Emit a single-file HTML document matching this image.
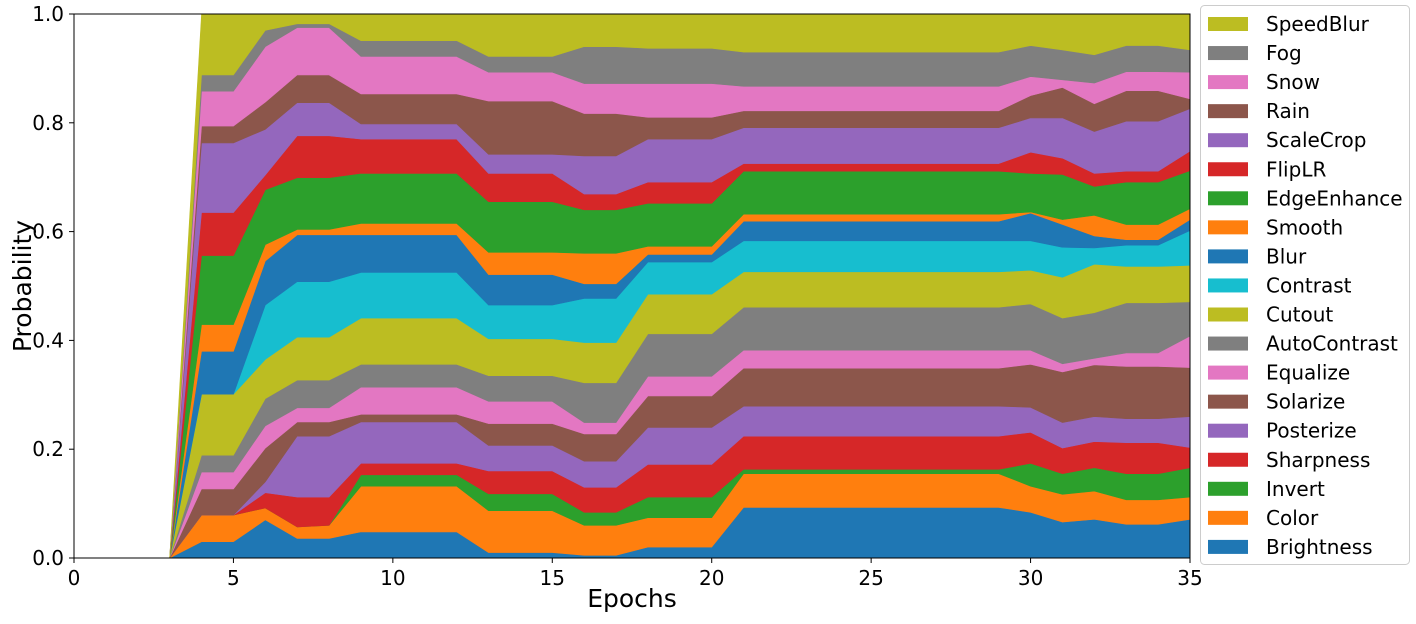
<!DOCTYPE html>
<html><head><meta charset="utf-8"><style>
body{margin:0;background:#fff;width:1416px;height:619px;overflow:hidden}
svg text{font-family:"DejaVu Sans","Liberation Sans",sans-serif;fill:#000}
</style></head><body>
<svg id="chart" width="1416" height="619" xmlns="http://www.w3.org/2000/svg">
<g id="areas"></g>
<g id="axes"></g>
<g id="legend"></g>
</svg>
<script>
const epochs=[3,4,5,6,7,8,9,10,11,12,13,14,15,16,17,18,19,20,21,22,23,24,25,26,27,28,29,30,31,32,33,34,35];
const seriesNames=["Brightness","Color","Invert","Sharpness","Posterize","Solarize","Equalize","AutoContrast","Cutout","Contrast","Blur","Smooth","EdgeEnhance","FlipLR","ScaleCrop","Rain","Snow","Fog","SpeedBlur"];
const colors=["#1f77b4","#ff7f0e","#2ca02c","#d62728","#9467bd","#8c564b","#e377c2","#7f7f7f","#bcbd22","#17becf","#1f77b4","#ff7f0e","#2ca02c","#d62728","#9467bd","#8c564b","#e377c2","#7f7f7f","#bcbd22"];
const brightness=[0,.030,.030,.070,.036,.036,.048,.048,.048,.048,.010,.010,.010,.005,.005,.020,.020,.020,.093,.093,.093,.093,.093,.093,.093,.093,.093,.084,.066,.071,.062,.062,.071];
const color=[0,.049,.049,.022,.021,.024,.084,.084,.084,.084,.077,.077,.077,.055,.055,.054,.054,.054,.062,.062,.062,.062,.062,.062,.062,.062,.062,.048,.051,.052,.045,.045,.041];
const invert=[0,0,0,0,0,0,.021,.021,.021,.021,.031,.031,.031,.024,.024,.038,.038,.038,.008,.008,.008,.008,.008,.008,.008,.008,.008,.042,.038,.043,.048,.048,.054];
const sharpness=[0,0,0,.028,.055,.052,.021,.021,.021,.021,.042,.042,.042,.046,.046,.060,.060,.060,.061,.061,.061,.061,.061,.061,.061,.061,.061,.057,.047,.048,.057,.057,.037];
const posterize=[0,0,0,.020,.112,.112,.076,.076,.076,.076,.047,.047,.047,.048,.048,.068,.068,.068,.055,.055,.055,.055,.055,.055,.055,.055,.055,.046,.047,.046,.044,.044,.057];
const solarize=[0,.048,.048,.062,.026,.026,.014,.014,.014,.014,.040,.040,.040,.050,.050,.058,.058,.058,.070,.070,.070,.070,.070,.070,.070,.070,.070,.079,.093,.095,.096,.096,.090];
const equalize=[0,.031,.031,.041,.026,.026,.050,.050,.050,.050,.041,.041,.041,.021,.021,.036,.036,.036,.033,.033,.033,.033,.033,.033,.033,.033,.033,.026,.015,.012,.025,.025,.058];
const autocontrast=[0,.031,.031,.050,.051,.051,.042,.042,.042,.042,.047,.047,.047,.073,.073,.078,.078,.078,.079,.079,.079,.079,.079,.079,.079,.079,.079,.085,.084,.084,.092,.092,.063];
const cutout=[0,.112,.112,.072,.079,.079,.085,.085,.085,.085,.068,.068,.068,.074,.074,.073,.073,.073,.065,.065,.065,.065,.065,.065,.065,.065,.065,.062,.075,.089,.067,.067,.067];
const contrast=[0,0,0,.100,.102,.102,.084,.084,.084,.084,.062,.062,.062,.081,.081,.059,.059,.059,.057,.057,.057,.057,.057,.057,.057,.057,.057,.054,.055,.030,.039,.039,.064];
const blur=[0,.079,.079,.081,.086,.086,.069,.069,.069,.069,.056,.056,.056,.027,.027,.014,.014,.014,.036,.036,.036,.036,.036,.036,.036,.036,.036,.051,.042,.022,.010,.010,.020];
const smooth=[0,.049,.049,.030,.010,.010,.021,.021,.021,.021,.041,.041,.041,.056,.056,.015,.015,.015,.013,.013,.013,.013,.013,.013,.013,.013,.013,.002,.009,.038,.028,.028,.020];
const edgeenhance=[0,.127,.127,.101,.095,.095,.092,.092,.092,.092,.093,.093,.093,.080,.080,.079,.079,.079,.079,.079,.079,.079,.079,.079,.079,.079,.079,.071,.083,.053,.078,.078,.070];
const fliplr=[0,.079,.079,.027,.077,.077,.063,.063,.063,.063,.052,.052,.052,.029,.029,.039,.039,.039,.014,.014,.014,.014,.014,.014,.014,.014,.014,.039,.030,.024,.020,.020,.036];
const scalecrop=[0,.128,.128,.084,.061,.061,.028,.028,.028,.028,.035,.035,.035,.070,.070,.079,.079,.079,.066,.066,.066,.066,.066,.066,.066,.066,.066,.063,.074,.077,.092,.092,.078];
const rain=[0,.031,.031,.050,.051,.051,.055,.055,.055,.055,.098,.098,.098,.078,.078,.040,.040,.040,.031,.031,.031,.031,.031,.031,.031,.031,.031,.041,.056,.051,.056,.056,.018];
const snow=[0,.064,.064,.102,.087,.087,.069,.069,.069,.069,.053,.053,.053,.055,.055,.062,.062,.062,.045,.045,.045,.045,.045,.045,.045,.045,.045,.035,.014,.038,.035,.035,.049];
const fog=[0,.030,.030,.030,.007,.007,.029,.029,.029,.029,.029,.029,.029,.068,.068,.065,.065,.065,.063,.063,.063,.063,.063,.063,.063,.063,.063,.057,.055,.052,.048,.048,.041];
const speedblur=[0,.112,.112,.030,.018,.018,.049,.049,.049,.049,.078,.078,.078,.060,.060,.063,.063,.063,.070,.070,.070,.070,.070,.070,.070,.070,.070,.058,.066,.075,.058,.058,.066];
const xTicks=[0,5,10,15,20,25,30,35];
const yTicks=[0,0.2,0.4,0.6,0.8,1.0];

const series=[brightness,color,invert,sharpness,posterize,solarize,equalize,autocontrast,cutout,contrast,blur,smooth,edgeenhance,fliplr,scalecrop,rain,snow,fog,speedblur];
const X0=74,X1=1190,Y0=558,Y1=14;
const xs=v=>X0+(v-0)/(35-0)*(X1-X0);
const ys=v=>Y0-(v-0)/(1-0)*(Y0-Y1);
const NS="http://www.w3.org/2000/svg";
const mk=(t,a)=>{const e=document.createElementNS(NS,t);for(const k in a)e.setAttribute(k,a[k]);return e;};
const areas=document.getElementById('areas');
const axes=document.getElementById('axes');
const legend=document.getElementById('legend');
let base=epochs.map(()=>0);
series.forEach((s,i)=>{
  const top=base.map((b,j)=>b+s[j]);
  const pts=[];
  epochs.forEach((e,j)=>pts.push(xs(e).toFixed(2)+','+ys(Math.min(top[j],1)).toFixed(2)));
  for(let j=epochs.length-1;j>=0;j--)pts.push(xs(epochs[j]).toFixed(2)+','+ys(Math.min(base[j],1)).toFixed(2));
  const p=mk('polygon',{points:pts.join(' '),fill:colors[i],stroke:colors[i],'stroke-width':'0.6'});
  
  
  areas.appendChild(p);
  base=top;
});
const fr=mk('rect',{x:X0,y:Y1,width:X1-X0,height:Y0-Y1,fill:'none',stroke:'#000','stroke-width':1});


axes.appendChild(fr);
xTicks.forEach(t=>{
  const x=xs(t);
  const l=mk('line',{x1:x,x2:x,y1:Y0,y2:Y0+5,stroke:'#000'});
  
  
  axes.appendChild(l);
  const tx=mk('text',{x:x,y:Y0+27,'text-anchor':'middle','font-size':20});
  tx.textContent=t;
  
  
  axes.appendChild(tx);
});
yTicks.forEach(t=>{
  const y=ys(t);
  const l=mk('line',{x1:X0-5,x2:X0,y1:y,y2:y,stroke:'#000'});
  
  
  axes.appendChild(l);
  const tx=mk('text',{x:X0-10,y:y+7,'text-anchor':'end','font-size':20});
  tx.textContent=t.toFixed(1);
  
  
  axes.appendChild(tx);
});
const xl=mk('text',{x:(X0+X1)/2,y:607,'text-anchor':'middle','font-size':25});
xl.textContent='Epochs';


axes.appendChild(xl);
const yl=mk('text',{x:0,y:0,'text-anchor':'middle','font-size':25,transform:'translate(31,286) rotate(-90)'});
yl.textContent='Probability';


axes.appendChild(yl);
const lb=mk('rect',{x:1200.5,y:5.5,width:209,height:559,rx:4,fill:'#fff',stroke:'#ccc'});


legend.appendChild(lb);
for(let k=0;k<series.length;k++){
  const i=series.length-1-k;
  const y=24+k*29.05;
  const g=mk('g',{});
  
  
  const sw=mk('rect',{x:1208,y:y-7,width:40,height:14,fill:colors[i]});
  
  
  const tx=mk('text',{x:1266,y:y+7,'font-size':20});
  tx.textContent=seriesNames[i];
  
  
  g.appendChild(sw);g.appendChild(tx);legend.appendChild(g);
}
</script>
</body></html>
